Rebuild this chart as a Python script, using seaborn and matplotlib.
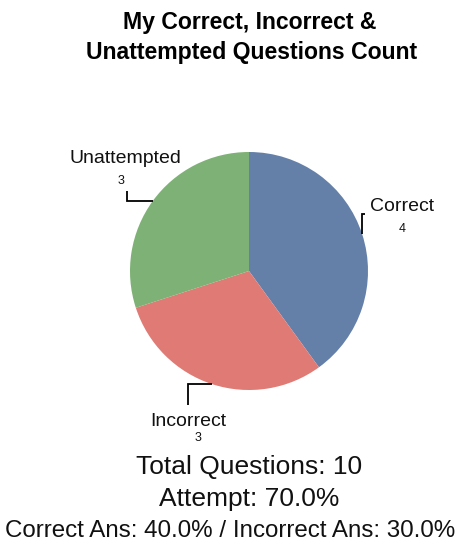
import numpy as np
import matplotlib
matplotlib.use("Agg")
import matplotlib.pyplot as plt
import seaborn as sns

# data
categories = ["Correct", "Incorrect", "Unattempted"]
counts = [4, 3, 3]
colors = ["#6480a8", "#e07a74", "#7db175"]

total = sum(counts)
attempt_pct = 100 * (counts[0] + counts[1]) / total
correct_pct = 100 * counts[0] / total
incorrect_pct = 100 * counts[1] / total

sns.set_theme(style="white")
plt.rcParams["font.family"] = ["Liberation Sans", "DejaVu Sans"]

W, H = 462, 546
fig = plt.figure(figsize=(W / 100, H / 100), dpi=100)
ax = fig.add_axes([0, 0, 1, 1])


def py(y):
    return H - y


cx, cy, r = 249, py(271), 119
wedges, _ = ax.pie(counts, colors=colors, startangle=90, counterclock=False,
                   center=(cx, cy), radius=r, frame=True,
                   wedgeprops={"linewidth": 0})
ax.set_xlim(0, W)
ax.set_ylim(0, H)
ax.axis("off")

# leader elbows (dx1, dy1, dx2, dy2) in pixels, and label offsets from elbow end
elbows = {
    "Correct": ((0, 20), (3, 0), (37, 8), (37, -15)),
    "Incorrect": ((-24, 0), (0, -21), (0, -16), (10, -33)),
    "Unattempted": ((-26, 0), (0, 10), (-1, 33), (-6, 10)),
}

for w, name, n in zip(wedges, categories, counts):
    mid = np.deg2rad((w.theta1 + w.theta2) / 2)
    x0 = cx + r * np.cos(mid)
    y0 = cy + r * np.sin(mid)
    (ax1, ay1), (ax2, ay2), lo, no = elbows[name]
    x1, y1 = x0 + ax1, y0 + ay1
    x2, y2 = x1 + ax2, y1 + ay2
    ax.plot([x0, x1, x2], [y0, y1, y2], color="black", lw=1.3,
            solid_joinstyle="miter", solid_capstyle="butt")
    ax.text(x2 + lo[0], y2 + lo[1], name, ha="center", va="center",
            fontsize=14, color="#111111")
    ax.text(x2 + no[0], y2 + no[1], str(n), ha="center", va="center",
            fontsize=9, color="#111111")

ax.text(250, py(22), "My Correct, Incorrect &", ha="center", va="center",
        fontsize=16.6, fontweight="bold", color="black")
ax.text(252, py(53), "Unattempted Questions Count", ha="center", va="center",
        fontsize=16.6, fontweight="bold", color="black")

ax.text(249, py(467), f"Total Questions: {total}", ha="center", va="center",
        fontsize=19, color="#111111")
ax.text(249, py(499), f"Attempt: {attempt_pct:.1f}%", ha="center", va="center",
        fontsize=19, color="#111111")
ax.text(230, py(531),
        f"Correct Ans: {correct_pct:.1f}% / Incorrect Ans: {incorrect_pct:.1f}%",
        ha="center", va="center", fontsize=17.4, color="#111111")

fig.savefig("out.png", dpi=100)
